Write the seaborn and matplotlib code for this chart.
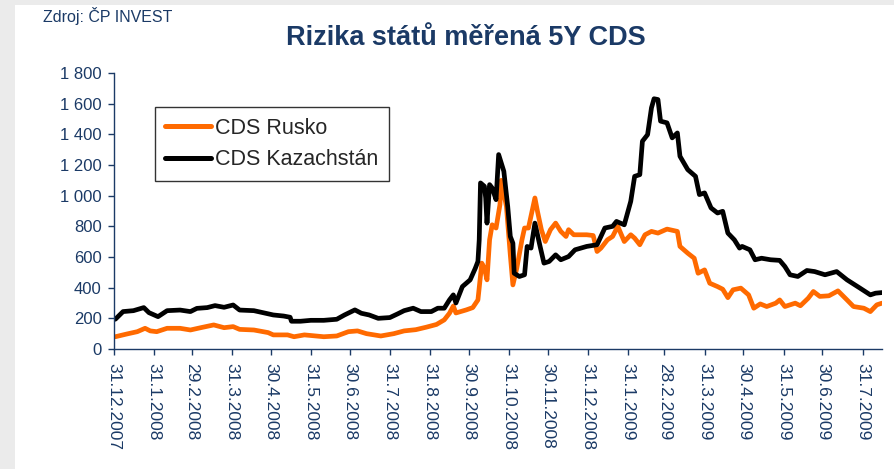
"""
Rizika států měřená 5Y CDS - CDS Rusko vs. CDS Kazachstán (2008-2009).
Values read by eye from the source chart (ČP INVEST).
"""

import pandas as pd
import matplotlib
matplotlib.use('Agg')  # no display
import matplotlib.pyplot as plt
from matplotlib.patches import Rectangle
import seaborn as sns

# --- data -----------------------------------------------------------------
rusko_dates = [
    "2008-01-01", "2008-01-10", "2008-01-18", "2008-01-24", "2008-01-28", "2008-02-02",
    "2008-02-10", "2008-02-20", "2008-02-28", "2008-03-07", "2008-03-17", "2008-03-25",
    "2008-04-01", "2008-04-06", "2008-04-17", "2008-04-28", "2008-05-02", "2008-05-13",
    "2008-05-18", "2008-05-26", "2008-06-10", "2008-06-20", "2008-06-29", "2008-07-06",
    "2008-07-13", "2008-07-24", "2008-08-03", "2008-08-11", "2008-08-20", "2008-08-28",
    "2008-09-05", "2008-09-11", "2008-09-15", "2008-09-18", "2008-09-20", "2008-09-28",
    "2008-10-03", "2008-10-07", "2008-10-10", "2008-10-12", "2008-10-14", "2008-10-16",
    "2008-10-18", "2008-10-21", "2008-10-24", "2008-10-25", "2008-10-29", "2008-11-01",
    "2008-11-03", "2008-11-06", "2008-11-10", "2008-11-12", "2008-11-15", "2008-11-20",
    "2008-11-22", "2008-11-25", "2008-11-28", "2008-12-02", "2008-12-06", "2008-12-10",
    "2008-12-14", "2008-12-16", "2008-12-20", "2008-12-30", "2009-01-04", "2009-01-07",
    "2009-01-10", "2009-01-15", "2009-01-19", "2009-01-23", "2009-01-28", "2009-02-02",
    "2009-02-05", "2009-02-09", "2009-02-13", "2009-02-18", "2009-02-23", "2009-03-02",
    "2009-03-10", "2009-03-12", "2009-03-18", "2009-03-23", "2009-03-26", "2009-03-31",
    "2009-04-04", "2009-04-10", "2009-04-14", "2009-04-18", "2009-04-22", "2009-04-28",
    "2009-05-04", "2009-05-08", "2009-05-13", "2009-05-18", "2009-05-25", "2009-05-28",
    "2009-06-01", "2009-06-09", "2009-06-13", "2009-06-19", "2009-06-23", "2009-06-28",
    "2009-07-05", "2009-07-12", "2009-07-19", "2009-07-24", "2009-08-01", "2009-08-06",
    "2009-08-11", "2009-08-15",
]
rusko_values = [
    80, 98, 113, 135, 118, 113, 135, 135, 124, 139, 157, 139,
    146, 128, 124, 107, 92, 92, 80, 92, 80, 85, 113, 118,
    100, 85, 100, 118, 126, 142, 160, 190, 233, 280, 235, 255,
    270, 320, 560, 527, 451, 712, 810, 789, 941, 1100, 930, 614,
    418, 527, 712, 789, 789, 985, 897, 778, 701, 778, 821, 767,
    734, 778, 745, 745, 740, 636, 658, 712, 734, 800, 701, 745,
    723, 680, 745, 767, 756, 782, 767, 669, 625, 592, 494, 516,
    429, 407, 390, 335, 386, 397, 353, 266, 294, 277, 299, 320,
    277, 299, 282, 331, 375, 343, 347, 379, 320, 277, 266, 244,
    288, 299,
]

kaz_dates = [
    "2008-01-01", "2008-01-07", "2008-01-15", "2008-01-23", "2008-01-27", "2008-02-03",
    "2008-02-10", "2008-02-20", "2008-02-28", "2008-03-04", "2008-03-12", "2008-03-18",
    "2008-03-25", "2008-04-01", "2008-04-06", "2008-04-17", "2008-04-24", "2008-05-02",
    "2008-05-10", "2008-05-15", "2008-05-16", "2008-05-23", "2008-05-31", "2008-06-10",
    "2008-06-20", "2008-06-26", "2008-07-04", "2008-07-09", "2008-07-15", "2008-07-22",
    "2008-07-31", "2008-08-06", "2008-08-11", "2008-08-18", "2008-08-24", "2008-09-01",
    "2008-09-06", "2008-09-11", "2008-09-15", "2008-09-18", "2008-09-20", "2008-09-25",
    "2008-10-01", "2008-10-05", "2008-10-07", "2008-10-08", "2008-10-09", "2008-10-12",
    "2008-10-13", "2008-10-14", "2008-10-16", "2008-10-18", "2008-10-21", "2008-10-23",
    "2008-10-27", "2008-10-30", "2008-11-01", "2008-11-03", "2008-11-04", "2008-11-08",
    "2008-11-12", "2008-11-14", "2008-11-17", "2008-11-20", "2008-11-24", "2008-11-27",
    "2008-12-01", "2008-12-06", "2008-12-10", "2008-12-16", "2008-12-21", "2008-12-30",
    "2009-01-07", "2009-01-13", "2009-01-19", "2009-01-22", "2009-01-28", "2009-02-02",
    "2009-02-05", "2009-02-09", "2009-02-11", "2009-02-15", "2009-02-18", "2009-02-20",
    "2009-02-23", "2009-02-25", "2009-03-02", "2009-03-06", "2009-03-10", "2009-03-12",
    "2009-03-18", "2009-03-24", "2009-03-27", "2009-03-31", "2009-04-05", "2009-04-10",
    "2009-04-14", "2009-04-18", "2009-04-23", "2009-04-27", "2009-04-29", "2009-05-05",
    "2009-05-09", "2009-05-14", "2009-05-21", "2009-05-28", "2009-06-01", "2009-06-05",
    "2009-06-11", "2009-06-18", "2009-06-24", "2009-07-02", "2009-07-11", "2009-07-19",
    "2009-07-29", "2009-08-06", "2009-08-10", "2009-08-15",
]
kaz_values = [
    194, 244, 250, 270, 237, 211, 250, 254, 244, 265, 270, 283,
    272, 287, 254, 250, 237, 222, 215, 207, 181, 181, 187, 187,
    194, 222, 255, 233, 222, 200, 205, 229, 250, 266, 244, 244,
    266, 266, 320, 353, 300, 407, 451, 527, 571, 712, 1083, 1061,
    985, 821, 1072, 1050, 974, 1268, 1159, 930, 734, 690, 494, 473,
    484, 669, 658, 821, 669, 560, 571, 614, 582, 603, 647, 669,
    680, 789, 800, 832, 810, 963, 1126, 1137, 1355, 1398, 1573, 1632,
    1627, 1486, 1475, 1377, 1409, 1257, 1170, 1126, 1007, 1018, 920, 887,
    898, 756, 712, 658, 669, 647, 582, 592, 582, 578, 538, 484,
    473, 512, 505, 484, 505, 451, 397, 353, 364, 368,
]

series_names = ["CDS Rusko", "CDS Kazachstán"]
series_colors = ["#ff6a00", "#000000"]

tick_labels = [
    "31.12.2007", "31.1.2008", "29.2.2008", "31.3.2008", "30.4.2008", "31.5.2008",
    "30.6.2008", "31.7.2008", "31.8.2008", "30.9.2008", "31.10.2008", "30.11.2008",
    "31.12.2008", "31.1.2009", "28.2.2009", "31.3.2009", "30.4.2009", "31.5.2009",
    "30.6.2009", "31.7.2009",
]
y_ticks = [0, 200, 400, 600, 800, 1000, 1200, 1400, 1600, 1800]

NAVY = "#1b3a66"

# --- long table for seaborn ----------------------------------------------
df = pd.concat([
    pd.DataFrame({"datum": pd.to_datetime(rusko_dates), "cds": rusko_values, "serie": series_names[0]}),
    pd.DataFrame({"datum": pd.to_datetime(kaz_dates), "cds": kaz_values, "serie": series_names[1]}),
], ignore_index=True)

sns.set_style("white")
plt.rcParams["font.family"] = ["Liberation Sans", "DejaVu Sans"]

fig = plt.figure(figsize=(8.94, 4.69), dpi=100, facecolor="#ebebeb")
# white panel (grey strip on the left and top like the source)
fig.patches.append(Rectangle((15 / 894, 0), 1, 464 / 469, transform=fig.transFigure,
                             facecolor="white", edgecolor="none", zorder=-1))
ax = fig.add_axes([114 / 894, 120 / 469, 768 / 894, 276 / 469])

sns.lineplot(data=df, x="datum", y="cds", hue="serie", hue_order=series_names,
             palette=dict(zip(series_names, series_colors)), linewidth=3.4,
             estimator=None, ax=ax)

ax.set_xlim(pd.Timestamp("2007-12-31"), pd.Timestamp("2009-08-15"))
ax.set_ylim(0, 1800)
ax.set_xlabel("")
ax.set_ylabel("")

tick_dates = pd.to_datetime(tick_labels, format="%d.%m.%Y")
ax.set_xticks(tick_dates)
ax.set_xticklabels(tick_labels, rotation=270, ha="center", va="top")
ax.set_yticks(y_ticks)
ax.set_yticklabels([f"{v:,}".replace(",", " ") for v in y_ticks])

for side in ["top", "right"]:
    ax.spines[side].set_visible(False)
for side in ["left", "bottom"]:
    ax.spines[side].set_color(NAVY)
    ax.spines[side].set_linewidth(1)
ax.tick_params(axis="both", direction="out", length=4, width=1, color=NAVY,
               labelcolor=NAVY, labelsize=12, bottom=True, left=True)
ax.tick_params(axis="x", pad=6, labelsize=12.5)
ax.tick_params(axis="y", pad=5)

# legend box
handles, labels = ax.get_legend_handles_labels()
leg = ax.legend(handles, labels, loc="upper left", bbox_to_anchor=(0.053, 0.877),
                borderaxespad=0, frameon=True, fancybox=False, fontsize=15.5,
                handlelength=2.1, handletextpad=0.2, labelspacing=0.5, borderpad=0.5)
leg.get_frame().set_edgecolor("black")
leg.get_frame().set_linewidth(1)
for line in leg.get_lines():
    line.set_linewidth(3.6)

fig.text(466 / 894, 1 - 38 / 469, "Rizika států měřená 5Y CDS", ha="center", va="center",
         fontsize=19.5, fontweight="bold", color=NAVY)
fig.text(43 / 894, 1 - 16 / 469, "Zdroj: ČP INVEST", ha="left", va="center",
         fontsize=11.5, color=NAVY)

fig.savefig("out.png", dpi=100, facecolor=fig.get_facecolor())
